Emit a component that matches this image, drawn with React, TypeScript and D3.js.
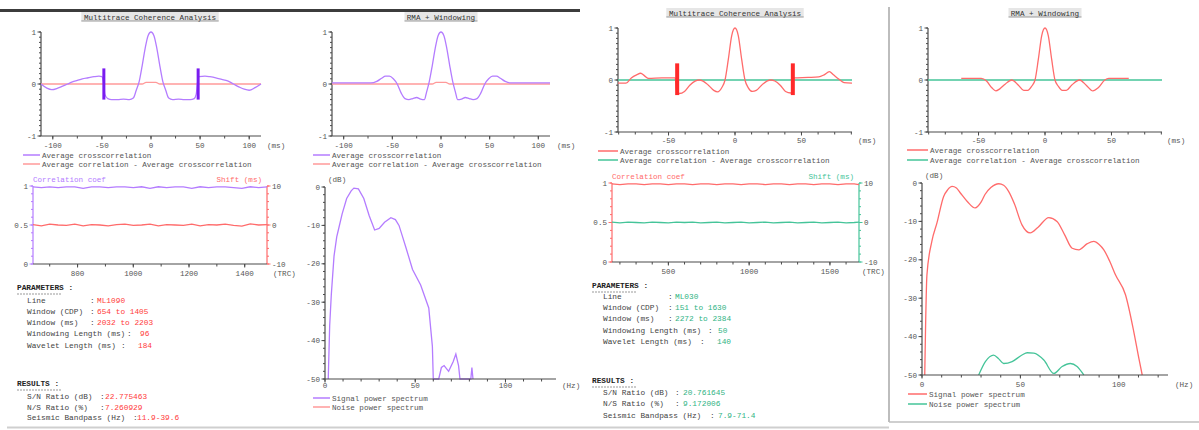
import { useRef, useEffect } from "react";
import * as d3 from "d3";

type Pt = [number, number];

// ---- shared tick labels ----
const lagTicksWide = [-100, -50, 0, 50, 100];
const lagTicksNarrow = [-50, 0, 50];
const ampTicks = [1, 0, -1];
const coefTicks = [1, 0.5, 0];
const shiftTicks = [10, 0, -10];
const trcTicksLeft = [800, 1000, 1200, 1400];
const trcTicksRight = [500, 1000, 1500];
const dbTicks = [0, -10, -20, -30, -40, -50];
const hzTicks = [0, 50, 100];

const paramLabels = ["Line", "Window (CDP)", "Window (ms)", "Windowing Length (ms)", "Wavelet Length (ms)"];
const resultLabels = ["S/N Ratio (dB)", "N/S Ratio (%)", "Seismic Bandpass (Hz)"];

// ---- left run ----
const leftCrossCorr: Pt[] = [
  [-112, 0.0], [-106, -0.08], [-101, -0.11], [-95, -0.08], [-90, -0.04], [-85, 0.0], [-80, 0.04],
  [-75, 0.07], [-70, 0.1], [-64, 0.12], [-58, 0.14], [-53, 0.15], [-50, 0.14], [-48.5, 0.05],
  [-47, -0.2], [-44, -0.28], [-40, -0.3], [-34, -0.3], [-28, -0.29], [-22, -0.3], [-18, -0.27],
  [-15, -0.12], [-12, 0.05], [-9, 0.35], [-6, 0.68], [-3, 0.93], [0, 1.0], [3, 0.93], [6, 0.68],
  [9, 0.35], [12, 0.05], [15, -0.12], [18, -0.27], [22, -0.3], [28, -0.29], [34, -0.3], [40, -0.3],
  [44, -0.28], [46, -0.2], [47.5, 0.05], [49, 0.14], [55, 0.15], [60, 0.14], [66, 0.12], [72, 0.09],
  [78, 0.06], [84, 0.0], [90, -0.06], [95, -0.1], [100, -0.12], [106, -0.07], [112, 0.0],
];
const leftCrossDiff: Pt[] = [[-112, 0], [-9, 0], [-5, 0.03], [5, 0.03], [9, 0], [112, 0]];
const leftWinCorr: Pt[] = [
  [-112, 0.02], [-72, 0.02], [-66, 0.05], [-61, 0.11], [-57, 0.15], [-53, 0.15], [-49, 0.1],
  [-45, 0.0], [-41, -0.17], [-37, -0.28], [-33, -0.3], [-29, -0.28], [-25, -0.26], [-21, -0.29],
  [-17, -0.3], [-15, -0.17], [-12, 0.05], [-9, 0.35], [-6, 0.68], [-3, 0.93], [0, 1.0], [3, 0.93],
  [6, 0.68], [9, 0.35], [12, 0.05], [15, -0.17], [17, -0.3], [21, -0.29], [25, -0.26], [29, -0.28],
  [33, -0.3], [37, -0.28], [41, -0.17], [45, 0.0], [49, 0.1], [53, 0.15], [57, 0.15], [61, 0.11],
  [66, 0.05], [72, 0.02], [112, 0.02],
];
const leftWinDiff: Pt[] = [[-112, 0], [-9, 0], [-5, 0.03], [5, 0.03], [9, 0], [112, 0]];
const leftWindowLags = [-48, 48];
const leftCoef: Pt[] = [
  [640, 0.99], [670, 0.98], [700, 0.99], [730, 0.98], [760, 0.99], [790, 0.99], [820, 0.97],
  [850, 0.99], [880, 0.99], [910, 0.98], [940, 0.99], [970, 0.99], [1000, 0.98], [1030, 0.99],
  [1060, 0.97], [1090, 0.99], [1120, 0.98], [1150, 0.99], [1180, 0.99], [1210, 0.97], [1240, 0.99],
  [1270, 0.98], [1300, 0.99], [1330, 0.99], [1360, 0.98], [1390, 0.97], [1420, 0.99], [1450, 0.98],
  [1480, 0.99],
];
const leftShift: Pt[] = [
  [640, 0.1], [670, -0.2], [700, 0.2], [730, 0.0], [760, -0.1], [790, 0.2], [820, -0.2], [850, 0.1],
  [880, 0.0], [910, -0.2], [940, 0.1], [970, 0.2], [1000, -0.1], [1030, 0.0], [1060, 0.2],
  [1090, -0.2], [1120, 0.1], [1150, 0.0], [1180, -0.1], [1210, 0.2], [1240, -0.2], [1270, 0.1],
  [1300, 0.0], [1330, 0.2], [1360, -0.1], [1390, -0.3], [1420, 0.3], [1450, 0.0], [1480, 0.1],
];
const leftSignal: Pt[] = [
  [1.8, -50], [2.6, -36], [3.5, -28], [5, -18], [6.5, -13], [7.5, -11], [9.5, -7], [12, -3],
  [14.5, -1], [16, -0.3], [18.5, -0.5], [21.5, -3], [24.5, -7.5], [27.5, -11.2], [30, -10.8],
  [33, -9.2], [36.5, -8], [39, -8.5], [41, -10], [43, -13], [45, -16], [48.5, -21.5], [53, -25.5],
  [57.5, -31.5], [59.5, -41.5], [60, -50], [63, -50], [64.5, -47], [66, -46.5], [68.5, -48],
  [71, -45.5], [72.5, -43.5], [74, -46.5], [74.8, -50], [80.8, -50], [81.4, -47], [82, -50],
];
const leftNoise: Pt[] = [];
const leftParamValues = ["ML1090", "654 to 1405", "2032 to 2203", "96", "184"];
const leftResultValues = ["22.775463", "7.260929", "11.9-39.6"];

// ---- right run ----
const rightCrossCorr: Pt[] = [
  [-88, -0.06], [-82, -0.06], [-78, 0.04], [-74, 0.1], [-71, 0.13], [-68, 0.08], [-65, 0.03],
  [-55, 0.04], [-45, 0.04], [-44, -0.2], [-42, -0.26], [-38, -0.22], [-34, -0.1], [-30, -0.02],
  [-27, 0.0], [-24, -0.02], [-20, -0.1], [-16, -0.2], [-13, -0.23], [-10, -0.15], [-7.5, 0.0],
  [-5, 0.4], [-2.5, 0.85], [0, 1.0], [2.5, 0.85], [5, 0.4], [7.5, 0.0], [10, -0.15], [13, -0.22],
  [16, -0.2], [20, -0.1], [24, -0.02], [27, 0.0], [30, -0.02], [34, -0.1], [38, -0.22], [42, -0.25],
  [43, -0.2], [44, 0.04], [55, 0.05], [63, 0.06], [67, 0.1], [71, 0.16], [74, 0.1], [78, 0.02],
  [82, -0.05], [88, -0.06],
];
const rightCrossDiff: Pt[] = [[-88, 0], [88, 0]];
const rightWinCorr: Pt[] = [
  [-63, 0.03], [-48, 0.03], [-44, -0.02], [-40, -0.15], [-37, -0.21], [-34, -0.17], [-30, -0.08],
  [-25, 0.0], [-20, -0.1], [-16, -0.2], [-13, -0.2], [-10, -0.12], [-7.5, 0.0], [-5, 0.4],
  [-2.5, 0.85], [0, 1.0], [2.5, 0.85], [5, 0.4], [7.5, 0.0], [10, -0.12], [13, -0.2], [16, -0.2],
  [20, -0.1], [26, 0.0], [31, -0.1], [36, -0.21], [40, -0.15], [45, 0.0], [48, 0.03], [63, 0.03],
];
const rightWinDiff: Pt[] = [[-88, 0], [88, 0]];
const rightWindowLags = [-43.5, 43.5];
const rightCoef: Pt[] = [
  [151, 0.99], [200, 0.98], [250, 0.99], [300, 0.99], [350, 0.98], [400, 0.99], [450, 0.99],
  [500, 0.98], [550, 0.99], [600, 0.99], [650, 0.98], [700, 0.99], [750, 0.99], [800, 0.98],
  [850, 0.99], [900, 0.99], [950, 0.98], [1000, 0.99], [1050, 0.99], [1100, 0.98], [1150, 0.99],
  [1200, 0.99], [1250, 0.98], [1300, 0.99], [1350, 0.99], [1400, 0.98], [1450, 0.99], [1500, 0.99],
  [1550, 0.98], [1600, 0.99], [1650, 0.99], [1680, 0.98],
];
const rightShift: Pt[] = [
  [151, 0.1], [200, -0.1], [250, 0.1], [300, 0.0], [350, -0.1], [400, 0.1], [450, 0.0], [500, -0.1],
  [550, 0.1], [600, 0.0], [650, 0.1], [700, -0.1], [750, 0.0], [800, 0.1], [850, -0.1], [900, 0.0],
  [950, 0.1], [1000, -0.1], [1050, 0.0], [1100, 0.1], [1150, -0.1], [1200, 0.0], [1250, 0.1],
  [1300, -0.1], [1350, 0.0], [1400, 0.1], [1450, -0.1], [1500, 0.0], [1550, 0.1], [1600, -0.1],
  [1650, 0.0], [1680, 0.1],
];
const rightSignal: Pt[] = [
  [1.4, -50], [2.5, -24], [5, -15.2], [7.6, -10.4], [11, -3.5], [13, -1.8], [15.3, -0.9],
  [17.5, -1.3], [19.5, -2.6], [23, -4.8], [27, -6.5], [30, -5], [32, -3], [35, -1.2], [39, -0.2],
  [41.5, -0.6], [44, -2.2], [47, -5.5], [50.8, -10.9], [55, -13], [59, -11.5], [64.4, -9],
  [68.6, -10], [72.5, -13.5], [76.3, -17], [79.7, -17.4], [84, -15.8], [87.3, -15.2], [90, -16],
  [92.4, -17.4], [95.5, -20.5], [98.3, -23.9], [103.4, -29.1], [107.6, -38.7], [110.2, -45.7],
  [111.9, -50],
];
const rightNoise: Pt[] = [
  [28.8, -50], [32.2, -46.5], [36.4, -44.8], [39, -45.8], [41.5, -47], [45.8, -46.5], [50.8, -44.8],
  [53.5, -44.2], [56.8, -44.3], [61.9, -46.1], [67, -49.6], [71.2, -47.8], [75.4, -47], [78.8, -47.8],
  [82.2, -50],
];
const rightParamValues = ["ML030", "151 to 1630", "2272 to 2384", "50", "140"];
const rightResultValues = ["20.761645", "9.172006", "7.9-71.4"];

const FONT = "'Liberation Mono', 'DejaVu Sans Mono', monospace";
const AXIS = "#4a4a4a";
const LABEL = "#555";
const PURPLE = "#b47cff";
const PURPLE_DARK = "#7a1cf0";
const RED = "#ff6b6b";
const RED_LIGHT = "#ff9a9a";
const GREEN = "#45c499";

function txt(g: any, x: number, y: number, s: string, o: any = {}) {
  return g
    .append("text")
    .attr("x", x)
    .attr("y", y)
    .attr("font-family", FONT)
    .attr("font-size", o.size ?? 7.6)
    .attr("font-weight", o.weight ?? "normal")
    .attr("fill", o.fill ?? LABEL)
    .attr("text-anchor", o.anchor ?? "start")
    .text(s);
}

function vAxis(g: any, y: any, x: number, major: number[], minor: number[], color: string, side: string) {
  const d = side === "left" ? -1 : 1;
  const [a, b] = y.range();
  g.append("line").attr("x1", x).attr("x2", x).attr("y1", a).attr("y2", b).attr("stroke", color).attr("stroke-width", 1.2);
  g.selectAll(null).data(minor).join("line")
    .attr("x1", x).attr("x2", x + d * 2).attr("y1", (v: number) => y(v)).attr("y2", (v: number) => y(v))
    .attr("stroke", color);
  g.selectAll(null).data(major).join("line")
    .attr("x1", x).attr("x2", x + d * 3.5).attr("y1", (v: number) => y(v)).attr("y2", (v: number) => y(v))
    .attr("stroke", color);
  major.forEach((v) => txt(g, x + d * 5, y(v) + 2.5, String(v), { anchor: d < 0 ? "end" : "start" }));
}

function hAxis(g: any, x: any, yPos: number, x0: number, x1: number, major: number[], minor: number[], off: number) {
  g.append("line").attr("x1", x0).attr("x2", x1).attr("y1", yPos).attr("y2", yPos).attr("stroke", AXIS).attr("stroke-width", 1.2);
  g.selectAll(null).data(minor).join("line")
    .attr("x1", (v: number) => x(v)).attr("x2", (v: number) => x(v)).attr("y1", yPos).attr("y2", yPos + 2.5)
    .attr("stroke", AXIS);
  major.forEach((v) => {
    g.append("line").attr("x1", x(v)).attr("x2", x(v)).attr("y1", yPos).attr("y2", yPos + 3.5).attr("stroke", AXIS);
    txt(g, x(v), yPos + off, String(v), { anchor: "middle" });
  });
}

function legend(g: any, xs: number[], ys: number[], colors: string[], labels: string[]) {
  labels.forEach((l, i) => {
    g.append("line").attr("x1", xs[0]).attr("x2", xs[1]).attr("y1", ys[i]).attr("y2", ys[i])
      .attr("stroke", colors[i]).attr("stroke-width", 1.5);
    txt(g, xs[2], ys[i] + 2.5, l);
  });
}

function title(g: any, cx: number, cy: number, s: string) {
  const w = s.length * 4.6;
  g.append("rect").attr("x", cx - w / 2 - 2).attr("y", cy - 5).attr("width", w + 4).attr("height", 9).attr("fill", "#e6e6e6");
  g.append("line").attr("x1", cx - w / 2 - 2).attr("x2", cx + w / 2 + 2).attr("y1", cy + 4).attr("y2", cy + 4).attr("stroke", "#999");
  txt(g, cx, cy + 2.5, s, { anchor: "middle", fill: "#333" });
}

function lagChart(g: any, c: any) {
  const x = d3.scaleLinear().domain(c.domain).range(c.xr);
  const y = d3.scaleLinear().domain([-1, 1]).range([c.yr[1], c.yr[0]]);
  const line = d3.line<Pt>().x((d) => x(d[0])).y((d) => y(d[1])).curve(d3.curveMonotoneX);
  title(g, c.titleX, c.titleY, c.title);
  vAxis(g, y, c.xr[0], ampTicks, d3.range(-10, 11).map((i) => i / 10), AXIS, "left");
  const minor = d3.range(Math.ceil(c.domain[0] / c.minorStep), Math.floor(c.domain[1] / c.minorStep) + 1).map((i) => i * c.minorStep);
  hAxis(g, x, c.yr[1], c.xr[0], c.xr[1], c.major, minor, c.labelOff);
  txt(g, c.unitX, c.yr[1] + c.labelOff, "(ms)");
  g.append("path").attr("d", line(c.diff)).attr("fill", "none").attr("stroke", c.diffColor).attr("stroke-width", 1.3);
  g.append("path").attr("d", line(c.curve)).attr("fill", "none").attr("stroke", c.curveColor).attr("stroke-width", 1.3);
  if (c.bars) {
    g.selectAll(null).data(c.bars).join("line")
      .attr("x1", (v: number) => x(v)).attr("x2", (v: number) => x(v))
      .attr("y1", y(c.barRange[0])).attr("y2", y(c.barRange[1]))
      .attr("stroke", c.barColor).attr("stroke-width", c.barW);
  }
  legend(g, c.legX, c.legY, [c.curveColor, c.diffColor], c.legend);
}

function coefChart(g: any, c: any) {
  const x = d3.scaleLinear().domain(c.domain).range(c.xr);
  const yc = d3.scaleLinear().domain([0, 1]).range([c.yr[1], c.yr[0]]);
  const ys = d3.scaleLinear().domain([-10, 10]).range([c.yr[1], c.yr[0]]);
  vAxis(g, yc, c.xr[0], coefTicks, d3.range(0, 11).map((i) => i / 10), c.coefColor, "left");
  vAxis(g, ys, c.xr[1], shiftTicks, d3.range(-5, 6).map((i) => i * 2), c.shiftColor, "right");
  const minor = d3.range(Math.ceil(c.domain[0] / 100), Math.floor(c.domain[1] / 100) + 1).map((i) => i * 100);
  hAxis(g, x, c.yr[1], c.xr[0], c.xr[1], c.major, minor, 12);
  txt(g, c.unitX, c.yr[1] + 12, "(TRC)");
  txt(g, c.xr[0], c.yr[0] - 4, "Correlation coef", { fill: c.coefColor });
  txt(g, c.xr[1] - 5, c.yr[0] - 4, "Shift (ms)", { fill: c.shiftColor, anchor: "end" });
  const lc = d3.line<Pt>().x((d) => x(d[0])).y((d) => yc(d[1]));
  const ls = d3.line<Pt>().x((d) => x(d[0])).y((d) => ys(d[1]));
  g.append("path").attr("d", ls(c.shift)).attr("fill", "none").attr("stroke", c.shiftColor).attr("stroke-width", 1.3);
  g.append("path").attr("d", lc(c.coef)).attr("fill", "none").attr("stroke", c.coefColor).attr("stroke-width", 1.3);
}

function specChart(g: any, c: any) {
  const x = d3.scaleLinear().domain(c.domain).range(c.xr);
  const y = d3.scaleLinear().domain([-50, 0]).range([c.yr[1], c.yr[0]]);
  const line = d3.line<Pt>().x((d) => x(d[0])).y((d) => y(d[1])).curve(c.smooth ? d3.curveMonotoneX : d3.curveLinear);
  if (c.noise.length) g.append("path").attr("d", line(c.noise)).attr("fill", "none").attr("stroke", c.noiseColor).attr("stroke-width", 1.3);
  g.append("path").attr("d", line(c.signal)).attr("fill", "none").attr("stroke", c.signalColor).attr("stroke-width", 1.3);
  vAxis(g, y, c.xr[0], dbTicks, d3.range(-25, 1).map((i) => i * 2), AXIS, "left");
  hAxis(g, x, c.yr[1], c.xr[0], c.xr[1], hzTicks, d3.range(0, 13).map((i) => i * 10).filter((v) => v <= c.domain[1]), c.labelOff);
  txt(g, c.xr[0] + 3, c.yr[0] - 5, "(dB)");
  txt(g, c.unitX, c.yr[1] + c.labelOff, "(Hz)");
  legend(g, c.legX, c.legY, [c.signalColor, c.noiseColor], ["Signal power spectrum", "Noise power spectrum"]);
}

function report(g: any, c: any) {
  const block = (head: string, hy: number, labels: string[], values: string[], ys: number[], colX: number[], valX: number[]) => {
    txt(g, c.x0, hy, head, { size: 7.8, fill: "#222", weight: "bold" });
    g.append("line").attr("x1", c.x0).attr("x2", c.x0 + 45).attr("y1", hy + 4).attr("y2", hy + 4)
      .attr("stroke", "#999").attr("stroke-dasharray", "2,1");
    labels.forEach((l, i) => {
      txt(g, c.indent, ys[i], l, { size: 7.8, fill: "#444" });
      txt(g, colX[i], ys[i], ":", { size: 7.8, fill: "#444" });
      txt(g, valX[i], ys[i], values[i], { size: 7.8, fill: c.valueColor });
    });
  };
  block("PARAMETERS :", c.paramHeadY, paramLabels, c.params, c.paramYs, c.paramColX, c.paramValX);
  block("RESULTS :", c.resHeadY, resultLabels, c.results, c.resYs, c.resColX, c.resValX);
}

export default function App() {
  const ref = useRef<SVGSVGElement>(null);

  useEffect(() => {
    const svg = d3.select(ref.current);
    svg.selectAll("*").remove();
    const g = svg.append("g");

    // frame
    g.append("rect").attr("x", 0).attr("y", 9).attr("width", 580).attr("height", 3).attr("fill", "#3c3c3c");
    g.append("line").attr("x1", 7).attr("x2", 889).attr("y1", 427.5).attr("y2", 427.5).attr("stroke", "#cfcfcf").attr("stroke-width", 2);
    g.append("line").attr("x1", 889).attr("x2", 1199).attr("y1", 422).attr("y2", 422).attr("stroke", "#cfcfcf").attr("stroke-width", 2);
    g.append("line").attr("x1", 889).attr("x2", 889).attr("y1", 7).attr("y2", 422).attr("stroke", "#bdbdbd").attr("stroke-width", 2);

    const legendLabels = ["Average crosscorrelation", "Average correlation - Average crosscorrelation"];

    // left run
    lagChart(g, {
      title: "Multitrace Coherence Analysis", titleX: 150, titleY: 17, domain: [-112, 112], xr: [41, 261], yr: [32, 136],
      major: lagTicksWide, minorStep: 25, labelOff: 12, unitX: 267, curve: leftCrossCorr, diff: leftCrossDiff,
      bars: leftWindowLags, barRange: [-0.3, 0.3], barW: 3, curveColor: PURPLE, diffColor: RED_LIGHT, barColor: PURPLE_DARK,
      legX: [23, 40, 42], legY: [155, 164], legend: legendLabels,
    });
    lagChart(g, {
      title: "RMA + Windowing", titleX: 441, titleY: 17, domain: [-112, 112], xr: [332, 550], yr: [32, 136],
      major: lagTicksWide, minorStep: 25, labelOff: 12, unitX: 557, curve: leftWinCorr, diff: leftWinDiff,
      curveColor: PURPLE, diffColor: RED_LIGHT, legX: [313, 330, 332], legY: [155, 164], legend: legendLabels,
    });
    coefChart(g, {
      domain: [640, 1480], xr: [33, 267], yr: [186, 264], major: trcTicksLeft, unitX: 273,
      coef: leftCoef, shift: leftShift, coefColor: PURPLE, shiftColor: RED,
    });
    specChart(g, {
      domain: [0, 128], xr: [325, 556], yr: [187, 379], labelOff: 9, unitX: 562, smooth: false,
      signal: leftSignal, noise: leftNoise, signalColor: PURPLE, noiseColor: RED_LIGHT,
      legX: [313, 330, 332], legY: [398, 407],
    });
    report(g, {
      x0: 17, indent: 27, valueColor: "#ff3b3b", params: leftParamValues, results: leftResultValues,
      paramHeadY: 290, paramYs: [303, 314, 325, 336, 348], paramColX: [90, 90, 90, 127, 121], paramValX: [97, 97, 97, 140, 138],
      resHeadY: 386, resYs: [399, 410, 420], resColX: [100, 100, 133], resValX: [105, 105, 137],
    });

    // right run
    lagChart(g, {
      title: "Multitrace Coherence Analysis", titleX: 735, titleY: 13, domain: [-88, 88], xr: [618, 852], yr: [28, 132],
      major: lagTicksNarrow, minorStep: 12.5, labelOff: 11, unitX: 858, curve: rightCrossCorr, diff: rightCrossDiff,
      bars: rightWindowLags, barRange: [-0.29, 0.32], barW: 4, curveColor: RED, diffColor: GREEN, barColor: "#ff2a2a",
      legX: [598, 618, 620], legY: [151, 160], legend: legendLabels,
    });
    lagChart(g, {
      title: "RMA + Windowing", titleX: 1045, titleY: 13, domain: [-88, 88], xr: [928, 1162], yr: [28, 132],
      major: lagTicksNarrow, minorStep: 12.5, labelOff: 11, unitX: 1167, curve: rightWinCorr, diff: rightWinDiff,
      curveColor: RED, diffColor: GREEN, legX: [907, 928, 930], legY: [150, 160], legend: legendLabels,
    });
    coefChart(g, {
      domain: [151, 1680], xr: [612, 859], yr: [183, 262], major: trcTicksRight, unitX: 862,
      coef: rightCoef, shift: rightShift, coefColor: RED, shiftColor: GREEN,
    });
    specChart(g, {
      domain: [0, 125], xr: [922, 1168], yr: [183, 375], labelOff: 12, unitX: 1175, smooth: true,
      signal: rightSignal, noise: rightNoise, signalColor: RED, noiseColor: GREEN,
      legX: [908, 927, 929], legY: [394, 404],
    });
    report(g, {
      x0: 592, indent: 603, valueColor: "#2fb383", params: rightParamValues, results: rightResultValues,
      paramHeadY: 288, paramYs: [299, 310, 321, 333, 344], paramColX: [668, 668, 668, 708, 700], paramValX: [675, 675, 675, 718, 717],
      resHeadY: 383, resYs: [395, 406, 418], resColX: [675, 675, 710], resValX: [683, 683, 718],
    });
  }, []);

  return (
    <svg
      ref={ref}
      width={1199}
      height={430}
      style={{ position: "absolute", left: 0, top: 0, background: "#fff" }}
    />
  );
}
